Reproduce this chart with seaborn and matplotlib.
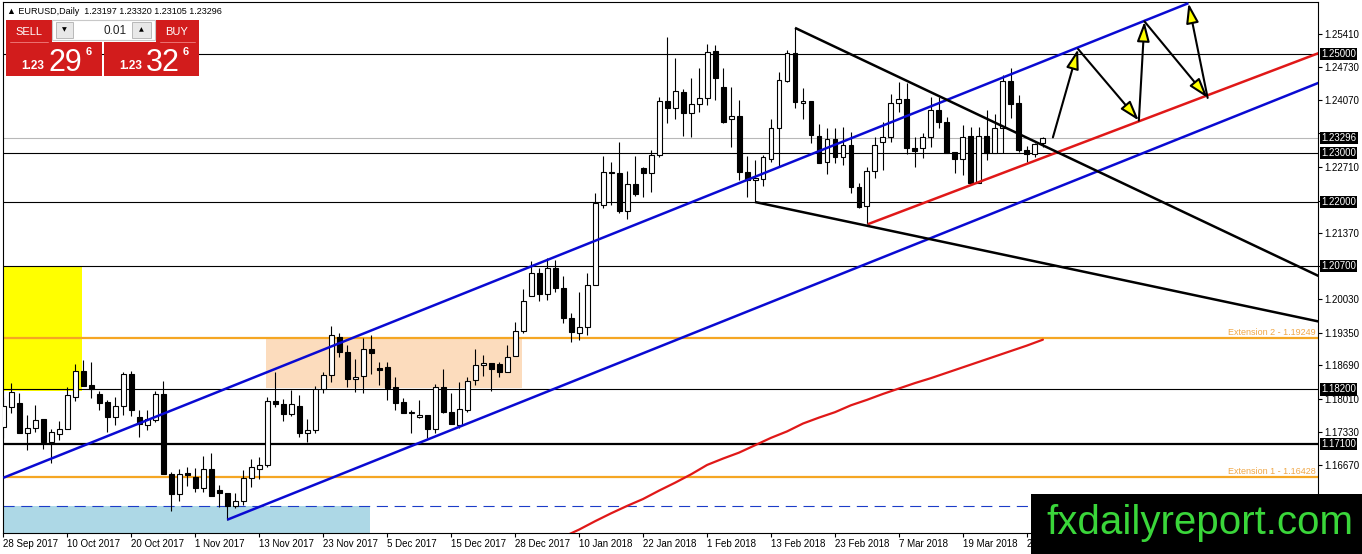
import matplotlib
matplotlib.use("Agg")
import matplotlib.pyplot as plt
import matplotlib.patches as mpatches
import matplotlib.transforms as mtransforms
import numpy as np
import pandas as pd
import seaborn as sns

sns.set_theme(style="white")
plt.rcParams['font.family'] = ['Liberation Sans', 'DejaVu Sans']

W, H = 1362, 554

# ------------------------
# Daily EURUSD candles
# ------------------------
opens = [1.1744, 1.1785, 1.1793, 1.1732, 1.1742, 1.1760, 1.1714, 1.1730, 1.1740, 1.1805,
         1.1858, 1.1829, 1.1811, 1.1795, 1.1764, 1.1787, 1.1851, 1.1764, 1.1748, 1.1758,
         1.1811, 1.1649, 1.1608, 1.1651, 1.1643, 1.1620, 1.1659, 1.1616, 1.1610, 1.1584,
         1.1594, 1.1641, 1.1659, 1.1667, 1.1797, 1.1791, 1.1770, 1.1787, 1.1732, 1.1738,
         1.1821, 1.1849, 1.1926, 1.1896, 1.1841, 1.1847, 1.1902, 1.1864, 1.1866, 1.1825,
         1.1795, 1.1772, 1.1764, 1.1768, 1.1740, 1.1825, 1.1774, 1.1748, 1.1778, 1.1839,
         1.1870, 1.1874, 1.1872, 1.1856, 1.1888, 1.1939, 1.2010, 1.2056, 1.2014, 1.2066,
         1.2026, 1.1965, 1.1935, 1.1947, 1.2032, 1.2194, 1.2261, 1.2259, 1.2182, 1.2237,
         1.2269, 1.2259, 1.2295, 1.2405, 1.2391, 1.2423, 1.2380, 1.2399, 1.2411, 1.2506,
         1.2433, 1.2368, 1.2374, 1.2261, 1.2245, 1.2247, 1.2287, 1.2350, 1.2445, 1.2502,
         1.2401, 1.2405, 1.2334, 1.2281, 1.2328, 1.2291, 1.2316, 1.2231, 1.2192, 1.2263,
         1.2322, 1.2332, 1.2401, 1.2409, 1.2310, 1.2310, 1.2332, 1.2387, 1.2362, 1.2301,
         1.2287, 1.2334, 1.2239, 1.2334, 1.2299, 1.2350, 1.2445, 1.2401, 1.2305, 1.2297,
         1.23197]
highs = [1.1805, 1.1833, 1.1813, 1.1768, 1.1789, 1.1760, 1.1740, 1.1756, 1.1825, 1.1872,
         1.1880, 1.1876, 1.1817, 1.1799, 1.1805, 1.1856, 1.1858, 1.1778, 1.1778, 1.1817,
         1.1837, 1.1653, 1.1659, 1.1663, 1.1661, 1.1685, 1.1691, 1.1626, 1.1610, 1.1610,
         1.1657, 1.1679, 1.1683, 1.1805, 1.1856, 1.1801, 1.1819, 1.1809, 1.1760, 1.1827,
         1.1856, 1.1949, 1.1935, 1.1910, 1.1882, 1.1924, 1.1930, 1.1876, 1.1876, 1.1845,
         1.1803, 1.1778, 1.1799, 1.1768, 1.1831, 1.1862, 1.1813, 1.1835, 1.1845, 1.1902,
         1.1890, 1.1874, 1.1876, 1.1910, 1.1957, 1.2024, 1.2081, 1.2066, 1.2087, 1.2083,
         1.2050, 1.1975, 1.2018, 1.2056, 1.2218, 1.2293, 1.2281, 1.2322, 1.2263, 1.2293,
         1.2271, 1.2305, 1.2413, 1.2535, 1.2492, 1.2429, 1.2451, 1.2472, 1.2520, 1.2518,
         1.2472, 1.2433, 1.2407, 1.2293, 1.2285, 1.2295, 1.2368, 1.2464, 1.2508, 1.2553,
         1.2431, 1.2405, 1.2358, 1.2350, 1.2350, 1.2352, 1.2342, 1.2239, 1.2271, 1.2332,
         1.2362, 1.2419, 1.2443, 1.2441, 1.2332, 1.2340, 1.2413, 1.2413, 1.2372, 1.2301,
         1.2356, 1.2352, 1.2352, 1.2387, 1.2378, 1.2458, 1.2472, 1.2417, 1.2314, 1.2320,
         1.23320]
lows = [1.1722, 1.1772, 1.1732, 1.1697, 1.1734, 1.1699, 1.1671, 1.1718, 1.1740, 1.1797,
        1.1827, 1.1803, 1.1778, 1.1734, 1.1748, 1.1768, 1.1766, 1.1724, 1.1738, 1.1754,
        1.1649, 1.1574, 1.1594, 1.1624, 1.1612, 1.1612, 1.1604, 1.1582, 1.1556, 1.1580,
        1.1586, 1.1622, 1.1639, 1.1663, 1.1785, 1.1756, 1.1766, 1.1724, 1.1714, 1.1732,
        1.1813, 1.1835, 1.1886, 1.1825, 1.1815, 1.1813, 1.1851, 1.1829, 1.1799, 1.1778,
        1.1772, 1.1732, 1.1762, 1.1722, 1.1732, 1.1772, 1.1750, 1.1742, 1.1774, 1.1829,
        1.1847, 1.1817, 1.1845, 1.1856, 1.1888, 1.1935, 1.2010, 1.1999, 1.2001, 1.2018,
        1.1955, 1.1916, 1.1920, 1.1930, 1.2032, 1.2188, 1.2194, 1.2178, 1.2166, 1.2212,
        1.2210, 1.2220, 1.2291, 1.2360, 1.2368, 1.2334, 1.2332, 1.2382, 1.2397, 1.2407,
        1.2360, 1.2312, 1.2245, 1.2210, 1.2200, 1.2233, 1.2281, 1.2273, 1.2443, 1.2391,
        1.2368, 1.2320, 1.2279, 1.2257, 1.2279, 1.2275, 1.2218, 1.2188, 1.2156, 1.2249,
        1.2265, 1.2322, 1.2382, 1.2297, 1.2271, 1.2289, 1.2312, 1.2350, 1.2299, 1.2259,
        1.2255, 1.2239, 1.2239, 1.2285, 1.2299, 1.2299, 1.2370, 1.2301, 1.2281, 1.2291,
        1.23105]
closes = [1.1787, 1.1815, 1.1732, 1.1742, 1.1758, 1.1714, 1.1734, 1.1740, 1.1809, 1.1858,
          1.1827, 1.1821, 1.1793, 1.1764, 1.1787, 1.1851, 1.1778, 1.1750, 1.1760, 1.1811,
          1.1649, 1.1608, 1.1649, 1.1647, 1.1620, 1.1659, 1.1604, 1.1610, 1.1584, 1.1594,
          1.1641, 1.1663, 1.1667, 1.1797, 1.1791, 1.1770, 1.1791, 1.1732, 1.1738, 1.1821,
          1.1849, 1.1930, 1.1896, 1.1841, 1.1845, 1.1902, 1.1894, 1.1860, 1.1823, 1.1793,
          1.1772, 1.1774, 1.1768, 1.1740, 1.1825, 1.1774, 1.1750, 1.1781, 1.1837, 1.1870,
          1.1874, 1.1862, 1.1856, 1.1886, 1.1939, 1.1999, 1.2056, 1.2014, 1.2066, 1.2026,
          1.1965, 1.1937, 1.1947, 1.2032, 1.2198, 1.2261, 1.2259, 1.2182, 1.2237, 1.2216,
          1.2259, 1.2295, 1.2405, 1.2391, 1.2425, 1.2380, 1.2399, 1.2411, 1.2504, 1.2451,
          1.2362, 1.2374, 1.2261, 1.2245, 1.2249, 1.2291, 1.2350, 1.2447, 1.2502, 1.2403,
          1.2405, 1.2336, 1.2279, 1.2328, 1.2291, 1.2316, 1.2231, 1.2190, 1.2263, 1.2316,
          1.2332, 1.2401, 1.2409, 1.2310, 1.2303, 1.2332, 1.2387, 1.2362, 1.2299, 1.2287,
          1.2332, 1.2239, 1.2334, 1.2299, 1.2350, 1.2445, 1.2399, 1.2305, 1.2297, 1.2318,
          1.23296]

date_bars = [0, 8, 16, 24, 32, 40, 48, 56, 64, 72, 80, 88, 96, 104, 112, 120, 128]
date_labels = ["28 Sep 2017", "10 Oct 2017", "20 Oct 2017", "1 Nov 2017", "13 Nov 2017",
               "23 Nov 2017", "5 Dec 2017", "15 Dec 2017", "28 Dec 2017", "10 Jan 2018",
               "22 Jan 2018", "1 Feb 2018", "13 Feb 2018", "23 Feb 2018", "7 Mar 2018",
               "19 Mar 2018", "29 Mar 2018"]

price_ticks = [1.25410, 1.24730, 1.24070, 1.23390, 1.22710, 1.22030, 1.21370, 1.20700,
               1.20030, 1.19350, 1.18690, 1.18010, 1.17330, 1.16670, 1.15990]
# ticks whose labels sit under a price box in the terminal
hidden_ticks = [1.23390, 1.22030, 1.20700]

# support / resistance levels and the current bid
levels = [1.25000, 1.23000, 1.22000, 1.20700, 1.18200, 1.17100]
bid = 1.23296
extensions = {"Extension 2 - 1.19249": 1.19249, "Extension 1 - 1.16428": 1.16428}
dashed_level = 1.1584

# moving average (red curve)
ma_bars = [70, 72, 74, 76, 78, 80, 82, 84, 86, 88, 90, 92, 94, 96, 98, 100, 102, 104,
           106, 108, 110, 112, 114, 116, 118, 120, 122, 124, 126, 128, 130]
ma_vals = [1.1521, 1.1536, 1.1553, 1.1569, 1.1584, 1.1598, 1.1615, 1.1631, 1.1648,
           1.1667, 1.1680, 1.1692, 1.1707, 1.1722, 1.1735, 1.1751, 1.1763, 1.1774,
           1.1788, 1.1799, 1.1811, 1.1822, 1.1833, 1.1843, 1.1854, 1.1865, 1.1876,
           1.1887, 1.1898, 1.1909, 1.1921]

# drawn trend lines: (bars, prices)
channel_upper = ([0, 148.2], [1.1641, 1.2603])
channel_lower = ([28, 165], [1.1556, 1.2445])
support_red = ([108.1, 165], [1.2155, 1.2505])
wedge_upper = ([99, 165], [1.2553, 1.2046])
wedge_lower = ([94, 165], [1.2200, 1.1956])

# projected zig-zag path
path_bars = [131.25, 134.4, 142.0, 142.7, 150.6, 148.2]
path_prices = [1.2331, 1.2510, 1.2365, 1.2566, 1.2411, 1.2603]

# shaded zones: (bar from, bar to, price low, price high)
yellow_zone = (-1, 9.9, 1.1817, 1.2070)
peach_zone = (32.9, 64.9, 1.1823, 1.1926)
blue_zone = (-1, 45.9, 1.1500, 1.1584)

# ------------------------
# Figure
# ------------------------
fig = plt.figure(figsize=(W / 100, H / 100), dpi=100)
fig.patch.set_facecolor("white")
ax = fig.add_axes([3 / W, 1 - 533 / H, 1315 / W, 531 / H])
ax.set_facecolor("white")
ax.set_xlim(-0.04, 164.4)
ax.set_ylim(1.15291, 1.26054)

for (x0, x1, y0, y1), col in [(yellow_zone, "#ffff00"), (peach_zone, "#fcdcbd"),
                              (blue_zone, "#add8e6")]:
    ax.add_patch(mpatches.Rectangle((x0, y0), x1 - x0, y1 - y0, fc=col, ec="none", zorder=0.5))

for lvl in levels:
    ax.axhline(lvl, color="black", lw=1.6 if lvl == 1.171 else 0.8, zorder=1)
ax.axhline(bid, color="#b8b8b8", lw=0.8, zorder=1)
ax.axhline(dashed_level, color="#1c3cc8", lw=0.8, dashes=(10, 6), zorder=1)
for txt, lvl in extensions.items():
    ax.axhline(lvl, color="#f5a623", lw=1.6, zorder=1)
    ax.text(164.1, lvl + 0.0002, txt, ha="right", va="bottom", fontsize=6.5,
            color="#f0a848", zorder=2)

# candles
df = pd.DataFrame({"open": opens, "high": highs, "low": lows, "close": closes})
df["bar"] = np.arange(len(df))
up = df["close"] >= df["open"]
ax.vlines(df["bar"], df["low"], df["high"], color="black", lw=0.8, zorder=3)
body_low = np.minimum(df["open"], df["close"])
body_h = np.maximum((df["close"] - df["open"]).abs(), 0.00008)
ax.bar(df["bar"], body_h, bottom=body_low, width=0.62,
       color=np.where(up, "white", "black"), edgecolor="black", linewidth=0.8, zorder=4)

# moving average
sns.lineplot(x=ma_bars, y=ma_vals, color="#e01818", lw=1.6, ax=ax, zorder=5)

for (xs, ys), col in [(channel_upper, "#0a0ad2"), (channel_lower, "#0a0ad2"),
                      (support_red, "#e01818"), (wedge_upper, "black"), (wedge_lower, "black")]:
    ax.plot(xs, ys, color=col, lw=1.8, zorder=6, solid_capstyle="butt")

for i in range(len(path_bars) - 1):
    ax.annotate("", xy=(path_bars[i + 1], path_prices[i + 1]),
                xytext=(path_bars[i], path_prices[i]),
                arrowprops=dict(arrowstyle="-|>,head_length=1.2,head_width=0.38",
                                mutation_scale=10, fc="#ffff00", ec="black", lw=1.5,
                                shrinkA=0, shrinkB=0),
                zorder=7, annotation_clip=False)

# axes cosmetics
for s in ax.spines.values():
    s.set_color("black")
    s.set_linewidth(0.8)
ax.yaxis.tick_right()
ax.set_yticks(price_ticks)
ax.set_yticklabels(["" if t in hidden_ticks else f"{t:.5f}" for t in price_ticks])
ax.tick_params(axis="y", right=True, left=False, direction="out", length=3, width=0.8,
               pad=1.5, labelsize=7, colors="black")
ax.set_xticks(date_bars)
ax.set_xticklabels(date_labels)
ax.tick_params(axis="x", bottom=True, direction="out", length=3, width=0.8, pad=1.5,
               labelsize=7, colors="black")
for lbl in ax.get_xticklabels():
    lbl.set_ha("left")
ax.grid(False)
ax.set_xlabel("")
ax.set_ylabel("")

trans = mtransforms.blended_transform_factory(ax.transAxes, ax.transData)
for lvl in [1.25000, bid, 1.23000, 1.22000, 1.20700, 1.18200, 1.17100]:
    ax.text(1.0025, lvl, f"{lvl:.5f}", transform=trans, ha="left", va="center",
            fontsize=7, color="white", clip_on=False, zorder=10,
            bbox=dict(boxstyle="square,pad=0.12", fc="black", ec="none"))


# ------------------------
# Terminal overlays (header, trade panel, logo) in pixel positions
# ------------------------
def fig_rect(x0, y0, x1, y1, fc, ec="none", lw=0.0, z=2):
    fig.add_artist(mpatches.Rectangle((x0 / W, 1 - y1 / H), (x1 - x0) / W, (y1 - y0) / H,
                                      transform=fig.transFigure, fc=fc, ec=ec, lw=lw, zorder=z))


def fig_txt(x, y, s, **kw):
    fig.text(x / W, 1 - y / H, s, **kw)


fig_txt(7, 11, "▲ EURUSD,Daily  1.23197 1.23320 1.23105 1.23296", fontsize=6.5,
        color="black", va="center", ha="left", family=["Liberation Sans", "DejaVu Sans"])

red = "#d21c1c"
fig_rect(6, 20, 52, 42, red)
fig_rect(156, 20, 199, 42, red)
fig_rect(6, 42, 102, 76, red)
fig_rect(104, 42, 199, 76, red)
fig_rect(52, 20, 155, 40, "white", ec="#c8c8c8", lw=0.8)
fig_rect(56, 22, 73, 38, "#e8e8e8", ec="#b0b0b0", lw=0.6, z=3)
fig_rect(132, 22, 151, 38, "#e8e8e8", ec="#b0b0b0", lw=0.6, z=3)
fig_txt(64.5, 30, "▼", fontsize=4.5, color="black", ha="center", va="center",
        family=["DejaVu Sans"], zorder=4)
fig_txt(141.5, 30, "▲", fontsize=4.5, color="black", ha="center", va="center",
        family=["DejaVu Sans"], zorder=4)
fig_txt(127, 34, "0.01", fontsize=8.5, color="#222222", ha="right", va="baseline")
fig_txt(29, 35, "SELL", fontsize=8, color="white", ha="center", va="baseline")
fig_txt(177, 35, "BUY", fontsize=8, color="white", ha="center", va="baseline")
fig.add_artist(plt.Line2D([10 / W, 48 / W], [1 - 41.5 / H] * 2, color="#f08080", lw=0.6))
fig.add_artist(plt.Line2D([160 / W, 195 / W], [1 - 41.5 / H] * 2, color="#f08080", lw=0.6))
for x_small, x_big, x_sup, big in [(21, 48, 86, "29"), (119, 146, 183, "32")]:
    fig_txt(x_small, 69, "1.23", fontsize=8.5, fontweight="bold", color="white",
            ha="left", va="baseline")
    fig_txt(x_big, 71, big, fontsize=22, color="white", ha="left", va="baseline")
    fig_txt(x_sup, 55, "6", fontsize=8, fontweight="bold", color="white",
            ha="left", va="baseline")

fig_rect(1031, 494, 1362, 554, "black", z=5)
fig_txt(1046, 534, "fxdailyreport.com", fontsize=29, color="#3ad63a", ha="left",
        va="baseline", zorder=6)

fig.savefig("out.png", dpi=100, facecolor="white")
